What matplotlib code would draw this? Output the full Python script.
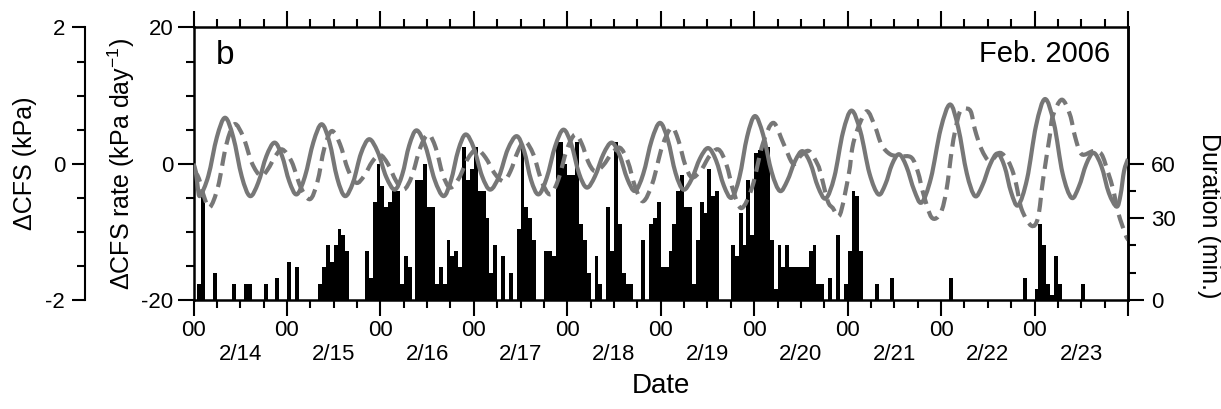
import matplotlib
matplotlib.use('Agg')
import matplotlib.pyplot as plt
from matplotlib.path import Path
from matplotlib.patches import PathPatch
from matplotlib.ticker import FixedLocator, FixedFormatter, MultipleLocator

plt.rcParams['font.family'] = ['Liberation Sans', 'DejaVu Sans']
plt.rcParams['axes.unicode_minus'] = False
plt.rcParams['mathtext.default'] = 'regular'

# hours since 2006-02-14 00:00
cfs_t = [0, 0.6, 1.1, 1.7, 3.8, 6.0, 8.1, 10.2, 12.4, 14.5, 16.6, 18.7, 20.8, 22.7, 24.6,
         26.5, 28.6, 30.8, 32.9, 34.9, 36.9, 38.9, 41.0, 43.0, 45.1, 47.3, 49.5, 51.7,
         53.6, 55.4, 57.3, 59.6, 61.9, 64.2, 66.1, 68.0, 69.9, 72.0, 74.1, 76.2, 78.5,
         80.7, 83.0, 84.9, 86.7, 88.6, 90.7, 92.9, 95.0, 97.0, 99.0, 101.0, 103.1, 105.3,
         107.4, 109.4, 111.4, 113.4, 115.5, 117.7, 119.8, 121.8, 123.8, 125.8, 127.9,
         130.1, 132.2, 134.2, 136.2, 138.2, 140.2, 142.2, 144.2, 146.3, 148.5, 150.6,
         152.5, 154.5, 156.4, 158.4, 160.4, 162.4, 164.6, 166.8, 169.0, 171.3, 173.6,
         175.9, 177.7, 179.4, 181.2, 183.1, 185.1, 187.0, 189.4, 191.9, 194.3, 196.4,
         198.6, 200.7, 202.6, 204.6, 206.5, 208.3, 210.0, 211.8, 214.1, 216.4, 218.7,
         221.0, 223.2, 225.5, 227.4, 229.3, 231.2, 233.2, 235.1, 237.1, 238.1, 239.0, 240]
cfs_v = [0.0, -0.12, -0.35, -0.47, -0.18, 0.39, 0.675, 0.39, -0.19, -0.475, -0.28, 0.11,
         0.31, 0.12, -0.26, -0.45, -0.19, 0.32, 0.58, 0.32, -0.21, -0.475, -0.27, 0.15,
         0.36, 0.175, -0.195, -0.38, -0.16, 0.27, 0.49, 0.25, -0.23, -0.475, -0.25, 0.20,
         0.43, 0.23, -0.18, -0.38, -0.18, 0.21, 0.405, 0.19, -0.24, -0.45, -0.21, 0.26,
         0.50, 0.29, -0.14, -0.35, -0.185, 0.145, 0.31, 0.13, -0.22, -0.40, -0.15, 0.35,
         0.60, 0.355, -0.135, -0.38, -0.23, 0.08, 0.23, 0.05, -0.32, -0.50, -0.20, 0.40,
         0.70, 0.425, -0.125, -0.40, -0.25, 0.04, 0.185, 0.01, -0.34, -0.51, -0.19, 0.46,
         0.78, 0.47, -0.14, -0.45, -0.30, -0.01, 0.14, -0.04, -0.39, -0.57, -0.21, 0.51,
         0.87, 0.53, -0.14, -0.475, -0.32, -0.01, 0.15, -0.04, -0.42, -0.61, -0.22, 0.56,
         0.95, 0.59, -0.14, -0.50, -0.335, -0.005, 0.16, -0.04, -0.43, -0.63, -0.455,
         -0.105, 0.07]

rate_t = [0, 1.4, 2.8, 4.2, 6.3, 8.4, 10.5, 12.8, 15.0, 17.3, 19.1, 21.0, 22.8, 25.2, 27.5,
          29.9, 31.8, 33.6, 35.5, 37.6, 39.7, 41.8, 43.8, 45.9, 47.9, 49.9, 52.0, 54.0,
          56.1, 58.2, 60.3, 62.2, 64.0, 65.9, 68.2, 70.4, 72.7, 75.0, 77.3, 79.6, 81.4,
          83.3, 85.1, 87.3, 89.4, 91.6, 93.7, 95.9, 98.0, 99.7, 101.4, 103.1, 105.2, 107.4,
          109.5, 111.5, 113.5, 115.5, 117.9, 120.4, 122.8, 124.5, 126.3, 128.0, 130.3,
          132.5, 134.8, 136.8, 138.8, 140.8, 143.5, 146.2, 148.9, 151.5, 154.0, 156.0,
          158.1, 160.3, 161.2, 162.9, 164.2, 166.0, 168.3, 169.2, 170.5, 172.9, 175.0,
          176.7, 178.9, 181.4, 184.4, 186.1, 187.4, 189.6, 191.9, 193.4, 194.7, 195.6,
          196.8, 198.0, 199.6, 200.7, 202.4, 204.5, 207.1, 209.2, 210.5, 211.4, 212.7,
          215.2, 216.9, 218.2, 219.9, 220.7, 223.0, 225.1, 226.4, 228.1, 231.1, 233.2,
          234.9, 236.2, 237.5, 239.5, 240]
rate_v = [-0.8, -2.2, -5.0, -6.4, -3.35, 2.75, 5.8, 3.9, 0.1, -1.8, -0.8, 1.1, 2.1, 0.3,
          -3.4, -5.2, -2.7, 2.3, 4.8, 2.9, -0.9, -2.8, -1.8, 0.3, 1.3, 0.0, -2.5, -3.8,
          -1.8, 2.3, 4.3, 2.35, -1.55, -3.5, -2.1, 0.7, 2.1, 0.9, -1.4, -2.55, -1.1, 1.8,
          3.3, 1.35, -2.55, -4.5, -2.3, 2.1, 4.3, 2.95, 0.25, -1.1, -0.25, 1.5, 2.35, 0.4,
          -3.5, -5.5, -2.8, 2.6, 5.3, 3.5, -0.2, -2.0, -1.0, 1.1, 2.1, 0.0, -4.3, -6.5,
          -3.4, 2.9, 6.0, 3.0, 0.0, 1.2, 1.85, -0.1, -1.7, -5.5, -6.5, -7.5, -1.5, 2.3,
          5.0, 7.7, 5.5, 2.8, 1.4, 1.1, 0.9, -1.3, -4.3, -7.9, -7.2, -3.8, 1.8, 4.8, 7.6,
          8.1, 7.7, 5.0, 2.1, 0.4, 1.6, 0.4, -1.3, -3.3, -6.7, -9.1, -7.9, -2.3, 4.0, 7.0,
          9.4, 7.2, 4.0, 1.4, 1.85, 1.4, -1.3, -3.8, -7.2, -10.6, -10.9]

# tremor duration per hour (min.), hour 0 = 2/14 00:00
duration = [0, 6, 38, 0, 0, 10, 0, 0, 0, 0,
            6, 0, 0, 6, 6, 0, 0, 0, 6, 0,
            0, 8, 0, 0, 14, 0, 12, 0, 0, 0,
            0, 0, 6, 12, 20, 14, 20, 26, 24, 18,
            0, 0, 0, 0, 18, 8, 36, 50, 42, 34,
            36, 40, 40, 6, 16, 12, 0, 44, 44, 50,
            34, 34, 6, 12, 6, 22, 16, 18, 12, 56,
            44, 48, 56, 40, 40, 30, 10, 20, 0, 16,
            0, 10, 0, 26, 57, 34, 30, 22, 0, 0,
            18, 18, 16, 58, 58, 50, 46, 46, 58, 28,
            22, 10, 0, 16, 6, 0, 34, 18, 58, 28,
            10, 6, 6, 0, 0, 22, 0, 28, 30, 36,
            12, 12, 18, 28, 40, 46, 34, 34, 6, 22,
            36, 32, 48, 38, 40, 0, 0, 0, 20, 16,
            32, 20, 44, 24, 54, 55, 56, 56, 22, 4,
            20, 12, 20, 12, 12, 12, 12, 12, 18, 20,
            6, 6, 0, 8, 0, 24, 0, 6, 18, 40,
            38, 18, 0, 0, 0, 6, 0, 0, 0, 8,
            0, 0, 0, 0, 0, 0, 0, 0, 0, 0,
            0, 0, 0, 0, 8, 0, 0, 0, 0, 0,
            0, 0, 0, 0, 0, 0, 0, 0, 0, 0,
            0, 0, 0, 8, 0, 0, 4, 28, 20, 6,
            2, 16, 6, 0, 0, 0, 0, 0, 6, 0,
            0, 0, 0, 0, 0, 0, 0, 0, 0, 0]

day_labels = ['2/14', '2/15', '2/16', '2/17', '2/18', '2/19', '2/20', '2/21', '2/22', '2/23']
dur_ticks = [0, 30, 50]
dur_labels = ['0', '30', '60']

gray = '#777777'
lw_sp = 1.8


def smooth_path(t, v):
    # Catmull-Rom through the read points, drawn as cubic Bezier segments
    pts = list(zip(t, v))
    n = len(pts)
    verts = [pts[0]]
    codes = [Path.MOVETO]
    for i in range(n - 1):
        p0 = pts[i - 1] if i > 0 else pts[i]
        p1 = pts[i]
        p2 = pts[i + 1]
        p3 = pts[i + 2] if i + 2 < n else pts[i + 1]
        c1 = (p1[0] + (p2[0] - p0[0]) / 6, p1[1] + (p2[1] - p0[1]) / 6)
        c2 = (p2[0] - (p3[0] - p1[0]) / 6, p2[1] - (p3[1] - p1[1]) / 6)
        verts += [c1, c2, p2]
        codes += [Path.CURVE4] * 3
    return Path(verts, codes)


fig = plt.figure(figsize=(12.21, 4.09), dpi=100)
ax = fig.add_axes([0.1585, 0.2665, 0.7653, 0.6663])
ax_bar = ax.twinx()
ax_cfs = ax.twinx()
ax_bar.set_zorder(0)
ax.set_zorder(1)
ax_cfs.set_zorder(2)
for a in (ax, ax_cfs):
    a.patch.set_visible(False)

# bars
hours = list(range(len(duration)))
ax_bar.bar(hours, duration, width=1.0, align='edge', color='black', linewidth=0)
ax_bar.set_ylim(0, 100)

# lines
ax.add_patch(PathPatch(smooth_path(rate_t, rate_v), fill=False, edgecolor=gray,
                       lw=3.0, ls=(0, (3.4, 1.8)), capstyle='butt'))
ax_cfs.add_patch(PathPatch(smooth_path(cfs_t, cfs_v), fill=False, edgecolor=gray,
                           lw=3.0, joinstyle='round'))
ax.set_ylim(-20, 20)
ax_cfs.set_ylim(-2, 2)
ax.set_xlim(0, 240)

# x axis
ax.xaxis.set_major_locator(MultipleLocator(24))
ax.xaxis.set_major_formatter(FixedFormatter(['00'] * 11))
minor_pos = [d * 24 + h for d in range(10) for h in (6, 12, 18)]
minor_lab = [day_labels[d] if h == 12 else '' for d in range(10) for h in (6, 12, 18)]
ax.xaxis.set_minor_locator(FixedLocator(minor_pos))
ax.xaxis.set_minor_formatter(FixedFormatter(minor_lab))
ax.tick_params(axis='x', which='both', top=True, direction='out', width=1.5,
               labelsize=16)
ax.tick_params(axis='x', which='major', length=11.5, pad=3)
ax.tick_params(axis='x', which='minor', length=5.5, pad=26)
ax.set_xlabel('Date', fontsize=20, labelpad=6)

# inner left (rate)
ax.yaxis.set_major_locator(FixedLocator([-20, 0, 20]))
ax.yaxis.set_minor_locator(MultipleLocator(5))
ax.tick_params(axis='y', which='both', right=False, direction='out', width=1.5,
               labelsize=16)
ax.tick_params(axis='y', which='major', length=11.5, pad=3)
ax.tick_params(axis='y', which='minor', length=6)
ax.set_ylabel('ΔCFS rate (kPa day$^{-1}$)', fontsize=18)
ax.yaxis.set_label_coords(-0.061, 0.5)
for s in ax.spines.values():
    s.set_linewidth(lw_sp)

# outer left (CFS)
for k in ('top', 'bottom', 'right'):
    ax_cfs.spines[k].set_visible(False)
ax_cfs.spines['left'].set_visible(True)
ax_cfs.spines['left'].set_position(('outward', 78))
ax_cfs.spines['left'].set_linewidth(1.5)
ax_cfs.yaxis.tick_left()
ax_cfs.yaxis.set_label_position('left')
ax_cfs.yaxis.set_major_locator(FixedLocator([-2, 0, 2]))
ax_cfs.yaxis.set_minor_locator(MultipleLocator(0.5))
ax_cfs.tick_params(axis='y', which='both', direction='out', width=1.5, labelsize=16)
ax_cfs.tick_params(axis='y', which='major', length=9.5, pad=5)
ax_cfs.tick_params(axis='y', which='minor', length=6)
ax_cfs.set_ylabel('ΔCFS (kPa)', fontsize=18)
ax_cfs.yaxis.set_label_coords(-0.168, 0.5)

# right (duration)
for k in ('top', 'bottom', 'left'):
    ax_bar.spines[k].set_visible(False)
ax_bar.spines['right'].set_linewidth(lw_sp)
ax_bar.yaxis.set_major_locator(FixedLocator(dur_ticks))
ax_bar.yaxis.set_major_formatter(FixedFormatter(dur_labels))
ax_bar.yaxis.set_minor_locator(FixedLocator([10, 20, 40]))
ax_bar.tick_params(axis='y', which='both', direction='out', width=1.5, labelsize=16)
ax_bar.tick_params(axis='y', which='major', length=11.5, pad=5)
ax_bar.tick_params(axis='y', which='minor', length=6)
ax_bar.set_ylabel('Duration (min.)', fontsize=18, rotation=270, va='bottom')
ax_bar.yaxis.set_label_coords(1.074, 0.31)

ax.text(0.024, 0.955, 'b', transform=ax.transAxes, fontsize=24, va='top', ha='left')
ax.text(0.981, 0.955, 'Feb. 2006', transform=ax.transAxes, fontsize=21, va='top',
        ha='right')

fig.savefig('out.png', dpi=100)
